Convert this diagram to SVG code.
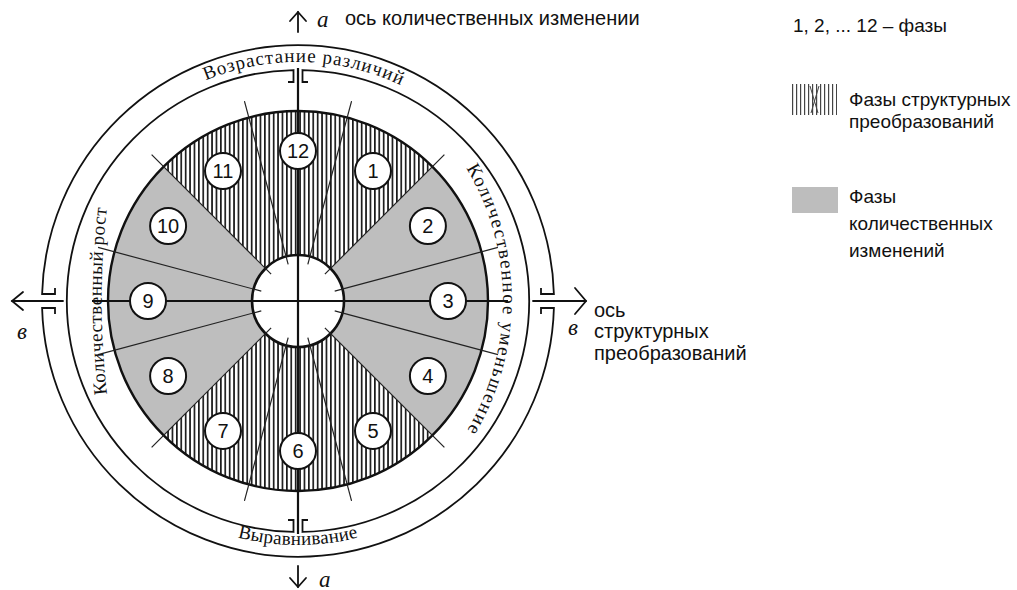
<svg xmlns="http://www.w3.org/2000/svg" width="1017" height="590" viewBox="0 0 1017 590">
<style>
.ln{stroke:#111;fill:none;stroke-linecap:round}
.thin{stroke:#222;stroke-width:1.2;fill:none}
.axis{stroke:#111;stroke-width:2.2;fill:none}
.ring{stroke:#111;stroke-width:1.8;fill:none;stroke-linejoin:miter}
.pc{fill:#fff;stroke:#111;stroke-width:2}
.pn{font-family:"Liberation Sans",Arial,sans-serif;font-size:20px;text-anchor:middle;fill:#111}
.arc{font-family:"Liberation Serif","Times New Roman",serif;font-size:19px;fill:#111}
.lbl{font-family:"Liberation Sans",Arial,sans-serif;font-size:20px;fill:#111}
.leg{font-family:"Liberation Sans",Arial,sans-serif;font-size:19px;fill:#111}
.hand{font-family:"Liberation Serif","Times New Roman",serif;font-style:italic;font-size:23px;fill:#111}
</style>
<defs>
<pattern id="hatch" patternUnits="userSpaceOnUse" width="4.4" height="10">
<rect x="0" y="0" width="4.4" height="10" fill="#fff"/>
<rect x="0" y="0" width="1.7" height="10" fill="#1a1a1a"/>
</pattern>
<pattern id="hatchL" patternUnits="userSpaceOnUse" width="4" height="10">
<rect x="0" y="0" width="4" height="10" fill="#fff"/>
<rect x="0" y="0" width="1.2" height="10" fill="#444"/>
</pattern>
<path id="pTop" d="M 133.5 127.6 A 239 239 0 0 1 471.4 136.5"/>
<path id="pBot" d="M 125.5 473.5 A 244 244 0 0 0 470.5 473.5"/>
<path id="pRight" d="M 428.3 119.7 A 255 255 0 0 1 428.3 480.3"/>
<path id="pLeft" d="M 109 410 A 800 800 0 0 1 109 192"/>
</defs>
<rect width="1017" height="590" fill="#fff"/>

<g id="disc">
<circle cx="298" cy="301" r="190" fill="url(#hatch)"/>
<path d="M 298 301 L 432.35 166.65 A 190 190 0 0 1 432.35 435.35 Z" fill="#bebebe"/>
<path d="M 298 301 L 163.65 435.35 A 190 190 0 0 1 163.65 166.65 Z" fill="#bebebe"/>
<circle cx="298" cy="301" r="190" fill="none" stroke="#111" stroke-width="2.4"/>
<circle cx="298" cy="301" r="46" fill="#fff" stroke="#111" stroke-width="2.6"/>
</g>

<g id="rings">
<path class="ring" d="M 308 82 H 302.5 V 70.04 A 231 231 0 0 1 302.5 531.96 V 520 H 308"/>
<path class="ring" d="M 288 520 H 293.5 V 531.96 A 231 231 0 0 1 293.5 70.04 V 82 H 288"/>
<path class="ring" d="M 55 288 V 294 H 42.1 A 256 256 0 0 1 553.9 294 H 541 V 288"/>
<path class="ring" d="M 541 314 V 308 H 553.9 A 256 256 0 0 1 42.1 308 H 55 V 314"/>
</g>

<g id="connectors">
<g class="thin">
<line x1="334.70" y1="310.83" x2="497.94" y2="354.57"/>
<line x1="324.87" y1="327.87" x2="444.37" y2="447.37"/>
<line x1="307.83" y1="337.70" x2="351.57" y2="500.94"/>
<line x1="288.17" y1="337.70" x2="244.43" y2="500.94"/>
<line x1="271.13" y1="327.87" x2="151.63" y2="447.37"/>
<line x1="261.30" y1="310.83" x2="98.06" y2="354.57"/>
<line x1="261.30" y1="291.17" x2="98.06" y2="247.43"/>
<line x1="271.13" y1="274.13" x2="151.63" y2="154.63"/>
<line x1="288.17" y1="264.30" x2="244.43" y2="101.06"/>
<line x1="307.83" y1="264.30" x2="351.57" y2="101.06"/>
<line x1="324.87" y1="274.13" x2="444.37" y2="154.63"/>
<line x1="334.70" y1="291.17" x2="497.94" y2="247.43"/>
</g>
<line class="axis" x1="92" y1="301" x2="508" y2="301"/>
<line class="axis" x1="298" y1="68" x2="298" y2="534"/>
<g class="ln" stroke-width="1.8">
<line x1="63" y1="301" x2="12" y2="301"/>
<polyline points="23,292 12,301 23,310"/>
<line x1="533" y1="301" x2="586" y2="301"/>
<polyline points="575,288 586,301 575,314"/>
<line x1="298" y1="32" x2="298" y2="12"/>
<polyline points="290,21 298,12 306,21"/>
<line x1="298" y1="566" x2="298" y2="587"/>
<polyline points="290,578 298,587 306,578"/>
</g>
</g>

<g id="phase-1"><circle class="pc" cx="373" cy="171.1" r="18"/><text class="pn" x="373" y="178.1">1</text></g>
<g id="phase-2"><circle class="pc" cx="427.9" cy="226" r="18"/><text class="pn" x="427.9" y="233">2</text></g>
<g id="phase-3"><circle class="pc" cx="448" cy="301" r="18"/><text class="pn" x="448" y="308">3</text></g>
<g id="phase-4"><circle class="pc" cx="427.9" cy="376" r="18"/><text class="pn" x="427.9" y="383">4</text></g>
<g id="phase-5"><circle class="pc" cx="373" cy="430.9" r="18"/><text class="pn" x="373" y="437.9">5</text></g>
<g id="phase-6"><circle class="pc" cx="298" cy="451" r="18"/><text class="pn" x="298" y="458">6</text></g>
<g id="phase-7"><circle class="pc" cx="223" cy="430.9" r="18"/><text class="pn" x="223" y="437.9">7</text></g>
<g id="phase-8"><circle class="pc" cx="168.1" cy="376" r="18"/><text class="pn" x="168.1" y="383">8</text></g>
<g id="phase-9"><circle class="pc" cx="148" cy="301" r="18"/><text class="pn" x="148" y="308">9</text></g>
<g id="phase-10"><circle class="pc" cx="168.1" cy="226" r="18"/><text class="pn" x="168.1" y="232.5" font-size="17">10</text></g>
<g id="phase-11"><circle class="pc" cx="223" cy="171.1" r="18"/><text class="pn" x="223" y="177.6" font-size="17">11</text></g>
<g id="phase-12"><circle class="pc" cx="298" cy="151" r="18"/><text class="pn" x="298" y="157.5" font-size="17">12</text></g>

<g id="arc-labels">
<text class="arc" letter-spacing="1.0"><textPath href="#pTop" startOffset="50%" text-anchor="middle">Возрастание различий</textPath></text>
<text class="arc" letter-spacing="0.3"><textPath href="#pBot" startOffset="50%" text-anchor="middle">Выравнивание</textPath></text>
<text class="arc" letter-spacing="1.6"><textPath href="#pRight" startOffset="50%" text-anchor="middle">Количественное уменьшение</textPath></text>
<text class="arc" letter-spacing="0.5"><textPath href="#pLeft" startOffset="50%" text-anchor="middle">Количественный рост</textPath></text>
</g>

<g id="axis-labels">
<text class="hand" x="317" y="27">а</text>
<text class="lbl" x="345" y="25">ось количественных изменении</text>
<text class="hand" x="319" y="587">а</text>
<text class="hand" x="568" y="335">в</text>
<text class="hand" x="17" y="339">в</text>
<text class="lbl" x="594" y="317">ось</text>
<text class="lbl" x="594" y="338">структурных</text>
<text class="lbl" x="594" y="360">преобразований</text>
</g>

<g id="legend">
<text class="leg" x="793" y="32">1, 2, ... 12 – фазы</text>
<g id="legend-hatch">
<rect x="792" y="84" width="45" height="31" fill="url(#hatchL)"/>
<line x1="810" y1="86" x2="818" y2="113" stroke="#444" stroke-width="1"/>
<line x1="819" y1="86" x2="811" y2="113" stroke="#444" stroke-width="1"/>
<text class="leg" x="849" y="106">Фазы структурных</text>
<text class="leg" x="849" y="128">преобразований</text>
</g>
<g id="legend-gray">
<rect x="792" y="187" width="46" height="26" fill="#bdbdbd"/>
<text class="leg" x="849" y="203">Фазы</text>
<text class="leg" x="849" y="230">количественных</text>
<text class="leg" x="849" y="257">изменений</text>
</g>
</g>
</svg>
